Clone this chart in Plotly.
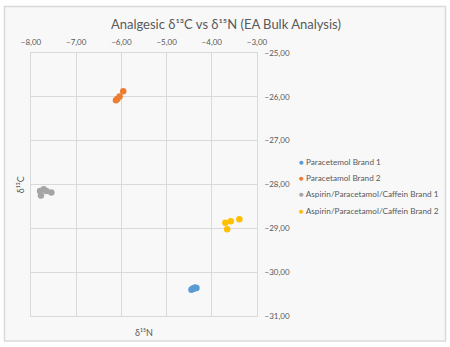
import plotly.graph_objects as go

# δ15N (x) and δ13C (y) values per sample group
series_names = [
    "Paracetemol Brand 1",
    "Paracetamol Brand 2",
    "Aspirin/Paracetamol/Caffein Brand 1",
    "Aspirin/Paracetamol/Caffein Brand 2",
]
series_colors = ["#5b9bd5", "#ed7d31", "#a5a5a5", "#ffc000"]

pb1_n = [-4.45, -4.42, -4.40, -4.37, -4.34]
pb1_c = [-30.40, -30.37, -30.38, -30.35, -30.36]

pb2_n = [-6.12, -6.09, -6.04, -5.96]
pb2_c = [-26.08, -26.05, -25.99, -25.87]

apc1_n = [-7.80, -7.78, -7.72, -7.66, -7.55]
apc1_c = [-28.15, -28.25, -28.11, -28.15, -28.18]

apc2_n = [-3.70, -3.66, -3.58, -3.39]
apc2_c = [-28.87, -29.02, -28.84, -28.79]

x_values = [pb1_n, pb2_n, apc1_n, apc2_n]
y_values = [pb1_c, pb2_c, apc1_c, apc2_c]

title_text = "Analgesic δ¹³C vs δ¹⁵N (EA Bulk Analysis)"
x_title = "δ¹⁵N"
y_title = "δ¹³C"

FONT = "Lato"
TEXT_GREY = "#595959"
GRID = "#d9d9d9"

# plot-area geometry in pixels, used to place paper-relative items
PLOT_L, PLOT_T, PLOT_W, PLOT_H = 31, 53, 226, 263

fig = go.Figure()
for name, color, xs, ys in zip(series_names, series_colors, x_values, y_values):
    fig.add_trace(go.Scatter(
        x=xs, y=ys, mode="markers", name=name, showlegend=False,
        marker=dict(color=color, size=6.5, line=dict(width=0)),
    ))

# legend rows: coloured bullet followed by the series name
legend_rows = []
for i, (name, color) in enumerate(zip(series_names, series_colors)):
    ypx = 162 + i * 16.2
    legend_rows.append(dict(
        text=f'<span style="color:{color}">●</span> {name}',
        xref="paper", yref="paper",
        x=(297 - PLOT_L) / PLOT_W, y=(PLOT_T + PLOT_H - ypx) / PLOT_H,
        xanchor="left", yanchor="middle", showarrow=False,
        font=dict(family=FONT, size=8.2, color=TEXT_GREY),
    ))

fig.update_layout(
    width=450, height=347,
    margin=dict(l=PLOT_L, r=450 - PLOT_L - PLOT_W, t=PLOT_T, b=347 - PLOT_T - PLOT_H),
    paper_bgcolor="white",
    plot_bgcolor="#f8f8f8",
    separators=", ",
    font=dict(family=FONT, color=TEXT_GREY, size=8),
    title=dict(text=title_text, x=0.502, xanchor="center", xref="container",
               y=0.93, yanchor="middle", yref="container",
               font=dict(family=FONT, size=13, color=TEXT_GREY)),
    xaxis=dict(range=[-8, -3], dtick=1, side="top", tickformat=".2f",
               showgrid=True, gridcolor=GRID, gridwidth=1,
               zeroline=False, showline=True, linecolor=GRID, mirror=True,
               ticks="", ticklabelstandoff=4,
               tickfont=dict(family=FONT, size=8, color=TEXT_GREY)),
    yaxis=dict(range=[-31, -25], dtick=1, side="right", tickformat=".2f",
               showgrid=True, gridcolor=GRID, gridwidth=1,
               zeroline=False, showline=True, linecolor=GRID, mirror=True,
               ticks="", ticklabelstandoff=5,
               tickfont=dict(family=FONT, size=8, color=TEXT_GREY)),
    showlegend=False,
    shapes=[
        dict(type="rect", xref="paper", yref="paper", layer="below",
             x0=-26.5 / PLOT_W, x1=414.5 / PLOT_W,
             y0=-25 / PLOT_H, y1=(PLOT_H + 46.5) / PLOT_H,
             line=dict(color=GRID, width=1.5), fillcolor="#f8f8f8"),
    ],
    annotations=[
        dict(text=x_title, xref="paper", yref="paper", x=0.5, y=-0.035,
             xanchor="center", yanchor="top", showarrow=False,
             font=dict(family=FONT, size=9, color=TEXT_GREY)),
        dict(text=y_title, xref="paper", yref="paper", x=-0.012, y=0.5,
             xanchor="right", yanchor="middle", textangle=-90, showarrow=False,
             font=dict(family=FONT, size=9, color=TEXT_GREY)),
    ] + legend_rows,
)

fig.write_html("out.html")
